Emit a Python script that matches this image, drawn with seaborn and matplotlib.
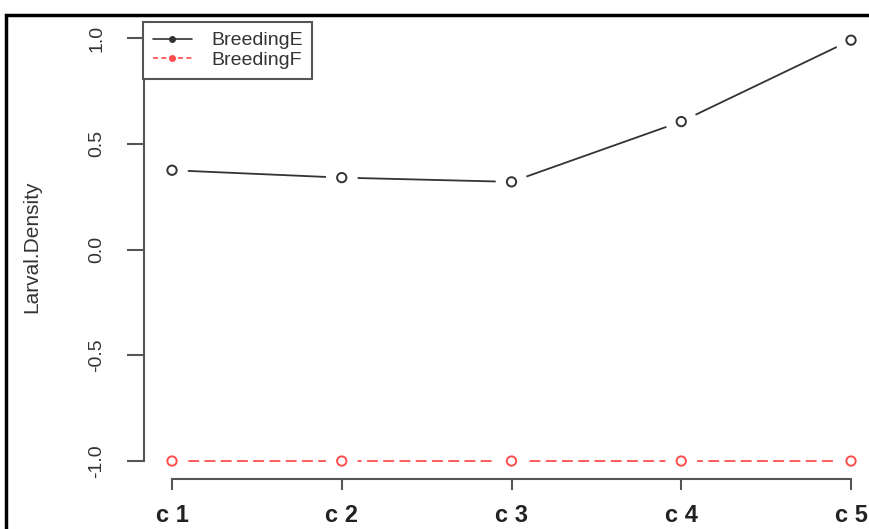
import matplotlib
matplotlib.use("Agg")
import matplotlib.pyplot as plt
from matplotlib.lines import Line2D
from matplotlib.patches import Rectangle
import pandas as pd
import seaborn as sns

# Larval density per station for the two breeding habitat types
stations = ["c 1", "c 2", "c 3", "c 4", "c 5"]
breeding_e = [0.375, 0.34, 0.32, 0.605, 0.99]
breeding_f = [-1.0, -1.0, -1.0, -1.0, -1.0]

df = pd.DataFrame({
    "Station": stations * 2,
    "Larval.Density": breeding_e + breeding_f,
    "Breeding": ["BreedingE"] * len(stations) + ["BreedingF"] * len(stations),
})

sns.set_style("ticks")
plt.rcParams["font.family"] = ["Liberation Sans", "DejaVu Sans"]

colors = {"BreedingE": "#333333", "BreedingF": "#ff4d4d"}

fig = plt.figure(figsize=(8.69, 5.29), dpi=100)
ax = fig.add_axes([144 / 869, 1 - 479 / 529, (869 - 144) / 869, (479 - 15) / 529])

sns.lineplot(data=df, x="Station", y="Larval.Density", hue="Breeding", style="Breeding",
             palette=colors, dashes={"BreedingE": "", "BreedingF": (6, 3)},
             linewidth=1.3, legend=False, ax=ax, zorder=2)
# white discs give the R "type = b" gaps around the points
sns.scatterplot(data=df, x="Station", y="Larval.Density", color="white", s=520,
                edgecolor="none", legend=False, ax=ax, zorder=3)
sns.scatterplot(data=df, x="Station", y="Larval.Density", hue="Breeding", palette=colors,
                marker="o", s=45, linewidth=1.4, legend=False, ax=ax, zorder=4)
for c in ax.collections:
    c.set_clip_on(False)
for ln in ax.lines:
    ln.set_clip_on(False)
# open circles: edge in series colour
ax.collections[-1].set_edgecolors([colors[b] for b in df["Breeding"]])
ax.collections[-1].set_facecolors("white")

ax.set_xlim(-0.165, 4.106)
ax.set_ylim(-1.085, 1.109)

for side in ["top", "right"]:
    ax.spines[side].set_visible(False)
ax.spines["left"].set_bounds(-1, 1)
ax.spines["bottom"].set_bounds(0, 4)
for side in ["left", "bottom"]:
    ax.spines[side].set_color("#555555")
    ax.spines[side].set_linewidth(1.5)

ax.set_yticks([-1, -0.5, 0, 0.5, 1])
ax.set_yticklabels(["-1.0", "-0.5", "0.0", "0.5", "1.0"], rotation=90, va="center")
ax.tick_params(axis="y", length=12, width=1.5, color="#555555", pad=16,
               labelsize=14, labelcolor="#333333")
ax.tick_params(axis="x", length=8, width=1.5, color="#555555", pad=10,
               labelsize=17, labelcolor="#222222")
for lbl in ax.get_xticklabels():
    lbl.set_fontweight("bold")

ax.set_xlabel("")
ax.set_ylabel("Larval.Density", fontsize=15, color="#333333")
ax.yaxis.set_label_coords(-0.142, 0.5)

handles = [
    Line2D([], [], color=colors["BreedingE"], marker="o", markersize=4, lw=1.2),
    Line2D([], [], color=colors["BreedingF"], marker="o", markersize=4, lw=1.2, ls=(0, (3, 2))),
]
leg = fig.legend(handles, ["BreedingE", "BreedingF"], loc="upper left",
                 bbox_to_anchor=(143 / 869, 1 - 22 / 529), borderaxespad=0,
                 fontsize=14, frameon=True, fancybox=False, framealpha=1,
                 handlelength=2.0, handletextpad=1.0, labelspacing=0.1, borderpad=0.5)
leg.get_frame().set_edgecolor("#555555")
leg.get_frame().set_linewidth(1.5)
for t in leg.get_texts():
    t.set_color("#333333")

# outer black frame of the screenshot
fig.patches.append(Rectangle((6 / 869, -0.1), 1.2, (1 - 15 / 529) + 0.1,
                             transform=fig.transFigure, fill=False,
                             edgecolor="black", linewidth=2.5))

fig.savefig("out.png", dpi=100)
